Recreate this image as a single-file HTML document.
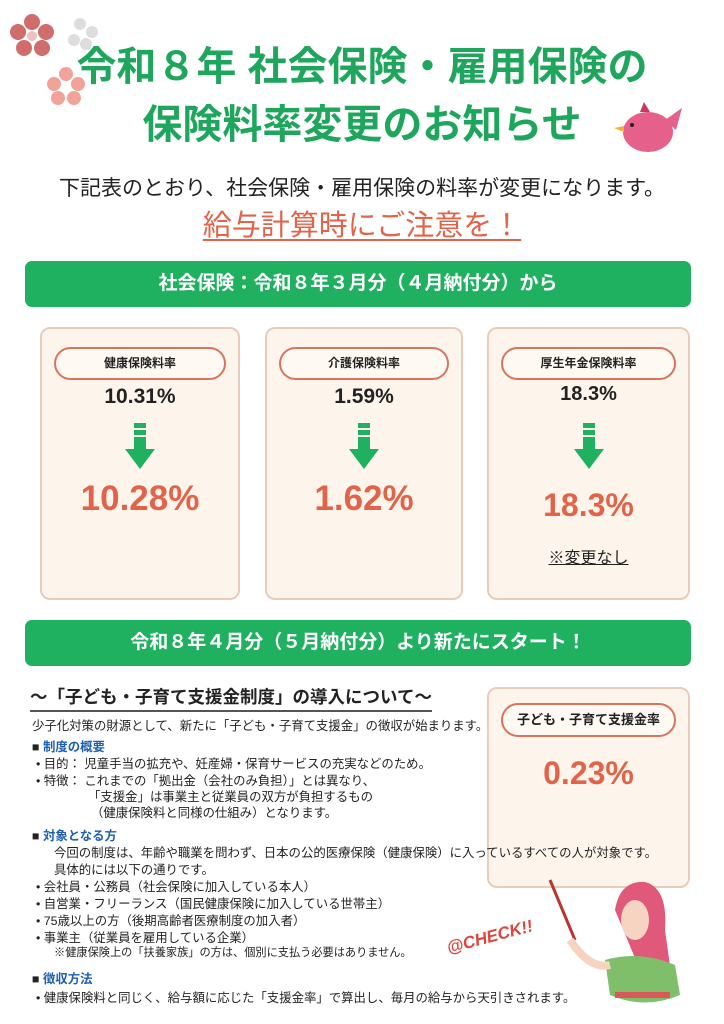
<!DOCTYPE html>
<html><head><meta charset="utf-8"><style>
*{margin:0;padding:0;box-sizing:border-box}
body{width:724px;height:1024px;background:#fff;position:relative;overflow:hidden;font-family:"Liberation Sans","Noto Sans CJK JP",sans-serif;color:#222}
.a{position:absolute;white-space:nowrap}
.t{color:#1ea75c;font-weight:bold;font-size:40px;left:0;width:724px;text-align:center}
.bar{position:absolute;left:25px;width:666px;height:46px;background:#1fb060;border-radius:7px;color:#fff;font-weight:bold;font-size:19px;text-align:center;line-height:46px}
.card{position:absolute;top:327px;height:273px;background:#fdf5ec;border:2px solid #e9cbbb;border-radius:10px}
.pill{position:absolute;left:12px;right:12px;top:18px;height:33px;border:2px solid #d9735c;border-radius:17px;background:#fff9f3;text-align:center;line-height:29px;font-size:12px;font-weight:bold}
.old{position:absolute;left:0;right:0;top:56px;text-align:center;font-size:21px;font-weight:bold}
.new{position:absolute;left:0;right:0;top:150px;text-align:center;font-size:35px;font-weight:bold;color:#e1644a}
.arr{position:absolute;left:50%;top:94px;margin-left:-15px;width:30px;height:50px}
.s{font-size:12.4px;left:32px}
.h{color:#1f5fb0;font-weight:bold}
</style></head><body>
<svg class="a" style="left:0;top:0" width="110" height="150">
<g fill="#cf6d6d"><circle cx="32" cy="22" r="8"/><circle cx="46" cy="32" r="8"/><circle cx="42" cy="48" r="8"/><circle cx="24" cy="48" r="8"/><circle cx="18" cy="32" r="8"/></g><circle cx="32" cy="36" r="5" fill="#f3c0c0"/>
<g fill="#ddd"><circle cx="80" cy="24" r="6"/><circle cx="92" cy="32" r="6"/><circle cx="86" cy="44" r="6"/><circle cx="74" cy="40" r="6"/></g>
<g fill="#f1a39a"><circle cx="66" cy="74" r="7"/><circle cx="78" cy="84" r="7"/><circle cx="74" cy="98" r="7"/><circle cx="58" cy="98" r="7"/><circle cx="54" cy="84" r="7"/></g>
</svg>
<svg class="a" style="left:610px;top:100px" width="75" height="60"><ellipse cx="38" cy="32" rx="25" ry="20" fill="#e5608a"/><path d="M55 20 L72 8 L66 30 Z" fill="#e5608a"/><path d="M30 12 L34 2 L40 12 Z" fill="#c83a5a"/><path d="M14 26 L4 28 L14 32Z" fill="#f0b030"/><circle cx="22" cy="25" r="2" fill="#222"/></svg>
<div class="a t" style="top:34px">令和８年 社会保険・雇用保険の</div>
<div class="a t" style="top:92px">保険料率変更のお知らせ</div>
<div class="a" style="left:0;width:724px;text-align:center;top:172px;font-size:21px">下記表のとおり、社会保険・雇用保険の料率が変更になります。</div>
<div class="a" style="left:0;width:724px;text-align:center;top:202px;font-size:29px;color:#e1644a;text-decoration:underline;text-underline-offset:4px">給与計算時にご注意を！</div>
<div class="bar" style="top:261px">社会保険：令和８年３月分（４月納付分）から</div>

<div class="card" style="left:40px;width:200px"><div class="pill">健康保険料率</div><div class="old">10.31%</div><svg class="arr" viewBox="0 0 30 50"><rect x="9" y="0" width="12" height="5" fill="#1fb060"/><rect x="9" y="7" width="12" height="5" fill="#1fb060"/><rect x="9" y="14" width="12" height="12" fill="#1fb060"/><path d="M0 26 H30 L15 46Z" fill="#1fb060"/></svg><div class="new">10.28%</div></div>
<div class="card" style="left:265px;width:198px"><div class="pill">介護保険料率</div><div class="old">1.59%</div><svg class="arr" viewBox="0 0 30 50"><rect x="9" y="0" width="12" height="5" fill="#1fb060"/><rect x="9" y="7" width="12" height="5" fill="#1fb060"/><rect x="9" y="14" width="12" height="12" fill="#1fb060"/><path d="M0 26 H30 L15 46Z" fill="#1fb060"/></svg><div class="new">1.62%</div></div>
<div class="card" style="left:487px;width:203px"><div class="pill">厚生年金保険料率</div><div class="old" style="top:54px;font-size:20px">18.3%</div><svg class="arr" viewBox="0 0 30 50"><rect x="9" y="0" width="12" height="5" fill="#1fb060"/><rect x="9" y="7" width="12" height="5" fill="#1fb060"/><rect x="9" y="14" width="12" height="12" fill="#1fb060"/><path d="M0 26 H30 L15 46Z" fill="#1fb060"/></svg><div class="new" style="top:158px;font-size:32px">18.3%</div><div class="a" style="left:0;right:0;top:215px;text-align:center;font-size:16px;text-decoration:underline">※変更なし</div></div>

<div class="bar" style="top:620px">令和８年４月分（５月納付分）より新たにスタート！</div>

<div class="a" style="left:30px;top:684px;font-size:17.5px;font-weight:bold;border-bottom:2px solid #555;padding-bottom:1px">～「子ども・子育て支援金制度」の導入について～</div>
<div class="card" style="left:487px;top:687px;width:203px;height:201px"><div class="pill" style="top:14px;height:34px;line-height:30px;font-size:13px">子ども・子育て支援金率</div><div class="new" style="top:66px;font-size:32px">0.23%</div></div>

<div class="a s" style="top:716px">少子化対策の財源として、新たに「子ども・子育て支援金」の徴収が始まります。</div>
<div class="a s" style="top:737px">■ <span class="h">制度の概要</span></div>
<div class="a s" style="top:754px;left:36px">•  目的： 児童手当の拡充や、妊産婦・保育サービスの充実などのため。</div>
<div class="a s" style="top:771px;left:36px">•  特徴： これまでの「拠出金（会社のみ負担）」とは異なり、</div>
<div class="a s" style="top:787px;left:88px">「支援金」は事業主と従業員の双方が負担するもの</div>
<div class="a s" style="top:803px;left:91px">（健康保険料と同様の仕組み）となります。</div>
<div class="a s" style="top:826px">■ <span class="h">対象となる方</span></div>
<div class="a s" style="top:843px;left:54px">今回の制度は、年齢や職業を問わず、日本の公的医療保険（健康保険）に入っているすべての人が対象です。</div>
<div class="a s" style="top:860px;left:54px">具体的には以下の通りです。</div>
<div class="a s" style="top:877px;left:36px">•  会社員・公務員（社会保険に加入している本人）</div>
<div class="a s" style="top:894px;left:36px">•  自営業・フリーランス（国民健康保険に加入している世帯主）</div>
<div class="a s" style="top:911px;left:36px">•  75歳以上の方（後期高齢者医療制度の加入者）</div>
<div class="a s" style="top:928px;left:36px">•  事業主（従業員を雇用している企業）</div>
<div class="a s" style="top:944px;left:54px;font-size:11.2px">※健康保険上の「扶養家族」の方は、個別に支払う必要はありません。</div>
<div class="a s" style="top:969px">■ <span class="h">徴収方法</span></div>
<div class="a s" style="top:988px;left:36px">•  健康保険料と同じく、給与額に応じた「支援金率」で算出し、毎月の給与から天引きされます。</div>

<svg class="a" style="left:440px;top:870px" width="270" height="150">
<line x1="110" y1="10" x2="135" y2="70" stroke="#b33" stroke-width="3"/>
<text x="6" y="75" font-family="Liberation Sans" font-weight="bold" font-style="italic" font-size="17" fill="#e0443c" transform="rotate(-15 40 70)">@CHECK!!</text>
<path d="M175 40 Q180 10 205 12 Q228 18 225 60 L232 110 L200 100 Z" fill="#e0587a"/>
<ellipse cx="195" cy="50" rx="14" ry="20" fill="#f7d4c2"/>
<path d="M165 90 Q200 80 235 95 L240 125 Q205 140 170 125 Z" fill="#7fbf6a"/>
<rect x="175" y="122" width="55" height="6" fill="#d65a5a"/>
<path d="M130 70 Q150 100 170 95" stroke="#f7d4c2" stroke-width="8" fill="none"/>
</svg>
</body></html>
